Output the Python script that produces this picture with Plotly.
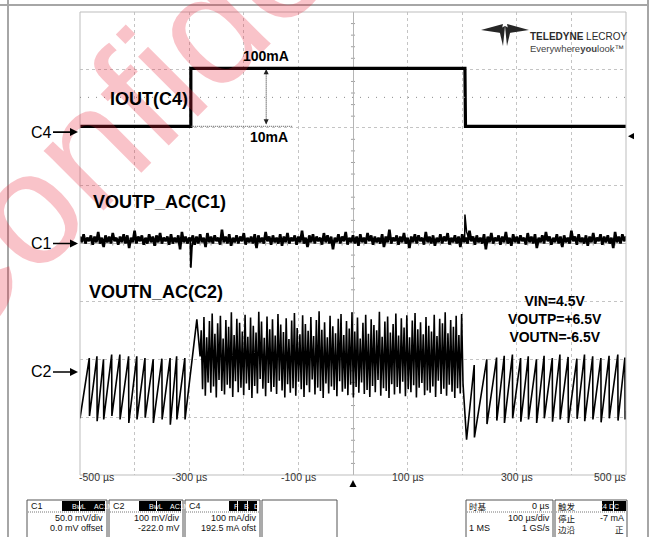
import plotly.graph_objects as go

# scope vertical settings: units/div and offset
c1_scale, c1_offset = 50.0, 0.0       # mV/div, mV
c2_scale, c2_offset = 100.0, -222.0   # mV/div, mV
c4_scale, c4_offset = 100.0, 192.5    # mA/div, mA
trig_level = -7                       # mA on C4

x_ticks = [-500, -300, -100, 100, 300, 500]
x_tick_text = ['-500 µs', '-300 µs', '-100 µs', '100 µs', '300 µs', '500 µs']

# C4 - IOUT load step (mA)
c4_t = [-500, -297, -297, 205, 205.5, 206, 500]
c4_ma = [10, 10, 110, 110, 60, 10, 10]

# C1 - VOUTP ripple, upper / lower noise peaks (mV) read across the screen
c1_hi = [6, 8, 5, 7, 6, 10, 5, 7, 6, 9, 5, 6, 8, 7, 5, 11, 6, 7, 5, 8,
         6, 7, 9, 5, 6, 8, 5, 7, 10, 6, 5, 7, 6, 8, 5, 9, 6, 7, 5, 12,
         6, 8, 5, 7, 6, 9, 5, 6, 8, 7, 5, 10, 6, 7, 5, 8, 6, 9, 5, 7,
         6, 11, 5, 7, 8, 6, 5, 9, 7, 6, 5, 8, 6, 10, 5, 7, 6, 8, 5, 9,
         7, 6, 5, 8, 6, 12, 5, 7, 6, 9, 5, 6, 8, 7, 5, 10, 6, 7, 5, 8,
         6, 9, 5, 7, 6, 8, 5, 11, 6, 7, 5, 8, 6, 9, 5, 7, 6, 10, 5, 8,
         6, 7, 5, 9, 6, 8, 5, 7, 10, 6, 5, 8, 6, 7, 5, 11, 6, 8, 5, 7,
         6, 9, 5, 8, 6, 7, 5, 10, 6, 8, 6]
c1_lo = [1, 0, 2, -1, 1, 0, -3, 1, 0, 2, -1, 1, 0, -4, 1, 0, 2, -1, 0, 1,
         -2, 1, 0, 2, -1, 0, 1, -5, 1, 0, 2, -1, 0, 1, -3, 1, 0, 2, -1, 1,
         0, -2, 1, 0, 2, -1, 1, 0, -4, 1, 0, 2, -1, 1, 0, -2, 1, 0, 2, -1,
         1, 0, -3, 1, 0, 2, -1, 1, 0, -5, 1, 0, 2, -1, 1, 0, -2, 1, 0, 2,
         -1, 1, 0, -3, 1, 0, 2, -1, 1, 0, -4, 1, 0, 2, -1, 1, 0, -2, 1, 0,
         2, -1, 1, 0, -3, 1, 0, 2, -1, 1, 0, -5, 1, 0, 2, -1, 1, 0, -2, 1,
         0, 2, -1, 1, 0, -4, 1, 0, 2, -1, 1, 0, -3, 1, 0, 2, -1, 1, 0, -2,
         1, 0, 2, -1, 1, 0, -4, 1, 0, 2, 1]
c1_dip_t = [-300, -298, -297, -296.5, -296, -295, -293]
c1_dip_mv = [3, 2, -21, -12, -8, -3, 2]
c1_kick_t = [203, 204.5, 205, 206, 208, 211, 214]
c1_kick_mv = [3, 4, 25, 17, 10, 6, 4]

# C2 - VOUTN ripple (mV): sawtooth before/after the step, burst during 100mA load
c2_pre_reset = [-483, -469, -457, -442, -427, -411, -396, -381, -366, -350, -335, -323, -308]
c2_pre_top = [24, 27, 22, 30, 30, 27, 27, 24, 22, 23, 24, 27, 24]
c2_pre_bot = [-76, -85, -82, -76, -82, -88, -82, -79, -88, -82, -91, -82, -82]
c2_hump_t = [-286, -280]
c2_hump_mv = [91, 27]
c2_burst_start, c2_burst_end = -278, 204
c2_burst_top = [72, 95, 60, 88, 101, 66, 84, 97, 58, 90, 78, 103, 64, 92, 85, 70, 99, 61, 94, 80,
                68, 104, 87, 59, 96, 74, 91, 63, 100, 82, 69, 93, 57, 89, 102, 76, 65, 98, 83, 71,
                95, 62, 90, 105, 73, 86, 60, 97, 79, 67, 92, 100, 64, 88, 75, 103, 70, 94, 58, 85,
                99, 66, 91, 81, 72, 104, 61, 87, 96, 68, 83, 101, 63, 93, 77, 98, 60, 89, 102, 74,
                86, 65, 95, 80, 70, 99, 62, 92, 84, 103, 67, 90, 78, 97, 64, 100]
c2_burst_bot = [-30, -41, -18, -36, -25, -44, -14, -33, -39, -22, -28, -43, -16, -35, -27, -40, -20, -31, -45, -24,
                -37, -12, -29, -42, -19, -34, -26, -38, -15, -32, -44, -21, -36, -28, -41, -17, -30, -43, -23, -35,
                -13, -39, -27, -33, -45, -20, -37, -25, -31, -42, -16, -34, -29, -40, -22, -44, -26, -36, -18, -38,
                -31, -43, -24, -35, -14, -41, -28, -33, -45, -21, -39, -26, -37, -17, -42, -30, -35, -23, -44, -27,
                -19, -40, -32, -36, -25, -43, -15, -38, -29, -41, -22, -34, -45, -28, -37, -20]
c2_post_reset = [222, 245, 263, 277, 292, 307, 321, 336, 350, 365, 379, 394, 410, 424, 439, 454, 469, 485, 498]
c2_post_top = [12, 22, 25, 28, 30, 24, 27, 22, 28, 24, 30, 26, 23, 30, 27, 24, 28, 30, 25]
c2_post_bot = [-113, -90, -84, -88, -80, -86, -82, -88, -80, -86, -82, -88, -81, -85, -82, -87, -80, -84, -82]
c2_edge_t = [-500, 208, 500]
c2_edge_mv = [-80, -117, -67]

FONT = 'Arial, Liberation Sans'
CJK = 'Noto Sans CJK SC'

# plot area in page pixels
L, T, W, H = 80, 12, 546, 463


def px(x):
    return (x - L) / W


def py(y):
    return (T + H - y) / H


def ch_range(scale, offset):
    return [-4 * scale - offset, 4 * scale - offset]


def path_px(pts):
    return 'M ' + ' L '.join(f'{px(a):.5f},{py(b):.5f}' for a, b in pts) + ' Z'


# C1 zigzag between the upper and lower noise peaks
n1 = len(c1_hi)
step = 1000 / (n1 - 1)
c1_t, c1_mv = [], []
for i in range(n1):
    c1_t += [-500 + i * step, -500 + (i + 0.5) * step]
    c1_mv += [c1_hi[i], c1_lo[i]]

# C2 trace
c2_t, c2_mv = [c2_edge_t[0]], [c2_edge_mv[0]]
for r, tp, bt in zip(c2_pre_reset, c2_pre_top, c2_pre_bot):
    c2_t += [r, r + 0.4]
    c2_mv += [tp, bt]
c2_t += c2_hump_t
c2_mv += c2_hump_mv
nb = len(c2_burst_top)
per = (c2_burst_end - c2_burst_start) / nb
for k in range(nb):
    c2_t += [c2_burst_start + k * per, c2_burst_start + (k + 0.5) * per]
    c2_mv += [c2_burst_top[k], c2_burst_bot[k]]
c2_t.append(c2_edge_t[1])
c2_mv.append(c2_edge_mv[1])
for r, tp, bt in zip(c2_post_reset, c2_post_top, c2_post_bot):
    c2_t += [r, r + 0.4]
    c2_mv += [tp, bt]
c2_t.append(c2_edge_t[2])
c2_mv.append(c2_edge_mv[2])

fig = go.Figure()

fig.add_trace(go.Scatter(x=c1_t, y=c1_mv, yaxis='y2', mode='lines',
                         line=dict(color='black', width=2.6), hoverinfo='skip'))
fig.add_trace(go.Scatter(x=c1_dip_t, y=c1_dip_mv, yaxis='y2', mode='lines',
                         line=dict(color='black', width=1.8), hoverinfo='skip'))
fig.add_trace(go.Scatter(x=c1_kick_t, y=c1_kick_mv, yaxis='y2', mode='lines',
                         line=dict(color='black', width=1.5), hoverinfo='skip'))
fig.add_trace(go.Scatter(x=c2_t, y=c2_mv, yaxis='y3', mode='lines',
                         line=dict(color='black', width=1.6), hoverinfo='skip'))
fig.add_trace(go.Scatter(x=c4_t, y=c4_ma, yaxis='y4', mode='lines',
                         line=dict(color='black', width=3.2), hoverinfo='skip'))

shapes = []
# plot frame and outer display lines
shapes.append(dict(type='rect', xref='paper', yref='paper', x0=0, x1=1, y0=0, y1=1,
                   line=dict(color='#bdbdbd', width=1)))
for x0, y0, x1, y1 in [(0, 5, 648, 5), (8, 0, 8, 537), (648, 0, 648, 537)]:
    shapes.append(dict(type='line', xref='paper', yref='paper', x0=px(x0), y0=py(y0),
                       x1=px(x1), y1=py(y1), line=dict(color='#a6a6a6', width=2)))

# minor ticks on centre cross
seg = []
for k in range(-20, 21):
    if k % 5:
        seg.append(f'M -3.7,{k * 0.2:.2f} L 3.7,{k * 0.2:.2f}')
for k in range(-25, 26):
    if k % 5:
        seg.append(f'M {k * 20},-0.035 L {k * 20},0.035')
shapes.append(dict(type='path', xref='x', yref='y', path=' '.join(seg),
                   line=dict(color='#a0a0a0', width=1), layer='below'))

# dotted guide lines on C4
shapes.append(dict(type='line', xref='x', yref='y4', x0=-500, x1=500, y0=60, y1=60,
                   line=dict(color='#8a8a8a', width=1, dash='1px,7px')))
shapes.append(dict(type='line', xref='x', yref='y4', x0=-297, x1=-110, y0=10, y1=10,
                   line=dict(color='#555', width=1, dash='1px,1px')))
shapes.append(dict(type='line', xref='x', yref='y4', x0=-159, x1=-159, y0=15, y1=104,
                   line=dict(color='#222', width=1, dash='1px,1px')))
shapes.append(dict(type='path', xref='x', yref='y4', path='M -163.6,100 L -154.4,100 L -159,109 Z',
                   fillcolor='#222', line=dict(width=0)))
shapes.append(dict(type='path', xref='x', yref='y4', path='M -163.6,22 L -154.4,22 L -159,13 Z',
                   fillcolor='#222', line=dict(width=0)))

# trigger position and level markers
shapes.append(dict(type='path', xref='x', yref='paper',
                   path=f'M 0,{py(480)} L -6.5,{py(487)} L 6.5,{py(487)} Z',
                   fillcolor='black', line=dict(width=0)))
shapes.append(dict(type='path', xref='paper', yref='y4',
                   path=f'M {px(628)},{trig_level} L {px(634)},{trig_level + 5.5} L {px(634)},{trig_level - 5.5} Z',
                   fillcolor='black', line=dict(width=0)))

# Teledyne logo glyph
for pts in [[(481, 30), (503, 24), (501, 33)], [(499, 29), (505, 26), (503, 46)],
            [(505, 26), (511, 29), (507, 46)], [(507, 24), (529, 30), (509, 33)]]:
    shapes.append(dict(type='path', xref='paper', yref='paper', path=path_px(pts),
                       fillcolor='#262626', line=dict(width=0)))

# info boxes at the bottom
boxes = [(27, 107), (109, 183), (185, 260), (262, 337), (466, 553), (555, 627)]
for x0, x1 in boxes:
    shapes.append(dict(type='rect', xref='paper', yref='paper', x0=px(x0), x1=px(x1),
                       y0=py(545), y1=py(500), line=dict(color='#555', width=1)))
    if x0 != 262:
        shapes.append(dict(type='line', xref='paper', yref='paper', x0=px(x0 + 1), x1=px(x1 - 1),
                           y0=py(512), y1=py(512), line=dict(color='#777', width=1, dash='1px,1px')))
badges = [(62, 79, 'BwL'), (80, 105, 'AC1M'), (139, 156, 'BwL'), (157, 181, 'AC1M'),
          (229, 237, 'F'), (238, 247, 'B'), (248, 257, 'D'), (602, 613, 'C4'), (614, 626, 'DC')]
for x0, x1, _ in badges:
    shapes.append(dict(type='rect', xref='paper', yref='paper', x0=px(x0), x1=px(x1),
                       y0=py(511), y1=py(501), fillcolor='black', line=dict(width=0)))

ann = []
# watermark (drawn first so it sits under the other texts)
ann.append(dict(x=px(210), y=py(25), xref='paper', yref='paper', text='Confidential', showarrow=False,
                xanchor='center', yanchor='middle', textangle=-45,
                font=dict(family=FONT, size=160, color='rgba(232,40,60,0.28)')))

# channel markers
for name, ref in [('C4', 'y4'), ('C1', 'y2'), ('C2', 'y3')]:
    ann.append(dict(x=px(78), xref='paper', y=0, yref=ref, ax=-37, ay=0, text=name,
                    showarrow=True, arrowhead=2, arrowsize=1, arrowwidth=1.6, arrowcolor='black',
                    font=dict(family=FONT, size=16, color='black')))

# trace labels
bold = dict(family=FONT, size=18, color='black')
ann.append(dict(x=-373, y=58, xref='x', yref='y4', text='<b>IOUT(C4)</b>', showarrow=False, font=bold))
ann.append(dict(x=-159, y=131, xref='x', yref='y4', text='<b>100mA</b>', showarrow=False,
                font=dict(family=FONT, size=14, color='black')))
ann.append(dict(x=-154, y=-8, xref='x', yref='y4', text='<b>10mA</b>', showarrow=False,
                font=dict(family=FONT, size=14, color='black')))
ann.append(dict(x=-354, y=36, xref='x', yref='y2', text='<b>VOUTP_AC(C1)</b>', showarrow=False, font=bold))
ann.append(dict(x=-360, y=139, xref='x', yref='y3', text='<b>VOUTN_AC(C2)</b>', showarrow=False, font=bold))
ann.append(dict(x=370, y=91, xref='x', yref='y3', showarrow=False,
                text='<b>VIN=4.5V<br>VOUTP=+6.5V<br>VOUTN=-6.5V</b>',
                font=dict(family=FONT, size=14, color='black')))

# time axis labels
for v, s in zip(x_ticks, x_tick_text):
    if v == x_ticks[0]:
        xa, xx = 'left', px(77)
    elif v == x_ticks[-1]:
        xa, xx = 'right', px(628)
    else:
        xa, xx = 'center', (v + 500) / 1000
    ann.append(dict(x=xx, y=py(485), xref='paper', yref='paper', text=s, xanchor=xa, showarrow=False,
                    font=dict(family=FONT, size=10.5, color='#333')))

# logo text
ann.append(dict(x=px(528), y=py(29), xref='paper', yref='paper', xanchor='left', showarrow=False,
                text='<b>TELEDYNE</b> LECROY', font=dict(family=FONT, size=10, color='#2b2b2b')))
ann.append(dict(x=px(528), y=py(41), xref='paper', yref='paper', xanchor='left', showarrow=False,
                text='Everywhere<b>you</b>look™', font=dict(family=FONT, size=9.5, color='#444')))

# bottom panel texts
small = dict(family=FONT, size=9, color='#111')
cjk = dict(family=CJK, size=8.5, color='#111')
panel = [
    (30, 506, 'C1', 'left', small), (104, 518, '50.0 mV/div', 'right', small),
    (104, 528, '0.0 mV offset', 'right', small),
    (112, 506, 'C2', 'left', small), (181, 518, '100 mV/div', 'right', small),
    (181, 528, '-222.0 mV', 'right', small),
    (188, 506, 'C4', 'left', small), (258, 518, '100 mA/div', 'right', small),
    (258, 528, '192.5 mA ofst', 'right', small),
    (468, 506, '时基', 'left', cjk), (551, 506, '0 µs', 'right', small),
    (551, 518, '100 µs/div', 'right', small),
    (468, 528, '1 MS', 'left', small), (551, 528, '1 GS/s', 'right', small),
    (557, 506, '触发', 'left', cjk), (557, 518, '停止', 'left', cjk),
    (625, 518, '-7 mA', 'right', small), (557, 529, '边沿', 'left', cjk),
    (625, 529, '正', 'right', cjk),
]
for x, y, s, xa, f in panel:
    ann.append(dict(x=px(x), y=py(y), xref='paper', yref='paper', text=s, xanchor=xa,
                    yanchor='middle', showarrow=False, font=f, borderpad=0))
for x0, x1, s in badges:
    ann.append(dict(x=px((x0 + x1) / 2), y=py(506), xref='paper', yref='paper', text=s,
                    yanchor='middle', showarrow=False, borderpad=0,
                    font=dict(family=FONT, size=7, color='white')))

grid = dict(showgrid=True, gridcolor='#c4c4c4', griddash='dot', gridwidth=1,
            zeroline=True, zerolinecolor='#b5b5b5', zerolinewidth=1,
            showticklabels=False, ticks='', showline=False, fixedrange=True)
hidden = dict(overlaying='y', visible=False, fixedrange=True)

fig.update_layout(
    width=651, height=537,
    margin=dict(l=L, r=651 - L - W, t=T, b=537 - T - H),
    paper_bgcolor='white', plot_bgcolor='white',
    showlegend=False,
    xaxis=dict(range=[-500, 500], dtick=100, tick0=-500, **grid),
    yaxis=dict(range=[-4, 4], dtick=1, tick0=-4, **grid),
    yaxis2=dict(range=ch_range(c1_scale, c1_offset), **hidden),
    yaxis3=dict(range=ch_range(c2_scale, c2_offset), **hidden),
    yaxis4=dict(range=ch_range(c4_scale, c4_offset), **hidden),
    shapes=shapes,
    annotations=ann,
)

# the page gets no body margin, so the figure sits at the window's top-left corner
fig.write_html('out.html', config={'displayModeBar': False},
               post_script="document.body.style.margin='0px';")
